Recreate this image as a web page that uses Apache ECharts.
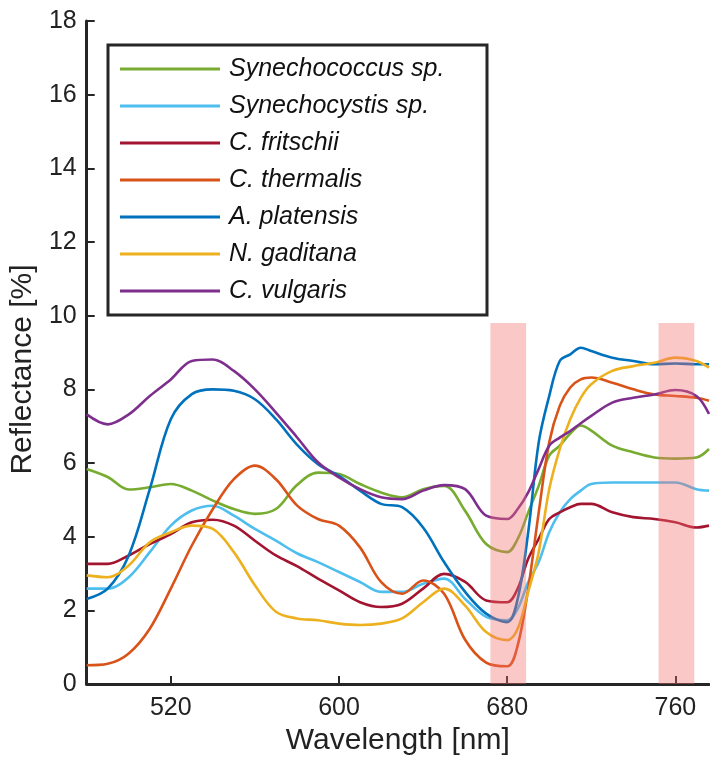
<!DOCTYPE html>
<html>
<head>
<meta charset="utf-8">
<script src="https://cdn.jsdelivr.net/npm/echarts@6/dist/echarts.min.js"></script>
<style>
  html, body { margin: 0; padding: 0; background: #fff; }
  #chart { width: 710px; height: 761px; }
</style>
</head>
<body>
<div id="chart"></div>
<script>
// wavelengths [nm]
const wavelengths = [480, 490, 500, 510, 520, 530, 540, 550, 560, 570, 580, 590, 600, 610, 620, 630, 640, 650, 660, 670,
  680, 685, 690, 695, 700, 705, 710, 715, 720, 730, 740, 750, 760, 770, 776];

// reflectance [%] per species
const synechococcus = [5.84, 5.62, 5.28, 5.34, 5.43, 5.25, 4.98, 4.75, 4.62, 4.75, 5.40, 5.74, 5.70, 5.43, 5.20, 5.07, 5.29, 5.38, 4.70, 3.80,
  3.58, 3.94, 4.66, 5.38, 6.20, 6.47, 6.80, 7.02, 6.88, 6.47, 6.29, 6.15, 6.12, 6.15, 6.38];
const synechocystis = [2.59, 2.59, 2.90, 3.58, 4.30, 4.71, 4.84, 4.57, 4.21, 3.89, 3.55, 3.31, 3.04, 2.77, 2.50, 2.50, 2.72, 2.86, 2.31, 1.82,
  1.73, 2.04, 2.77, 3.31, 4.12, 4.66, 5.02, 5.25, 5.43, 5.47, 5.47, 5.47, 5.47, 5.29, 5.25];
const fritschii = [3.26, 3.26, 3.49, 3.80, 4.07, 4.39, 4.46, 4.30, 3.89, 3.49, 3.20, 2.86, 2.54, 2.22, 2.09, 2.18, 2.59, 2.99, 2.77, 2.27,
  2.22, 2.59, 3.40, 3.94, 4.48, 4.66, 4.80, 4.89, 4.89, 4.66, 4.53, 4.48, 4.39, 4.25, 4.30];
const thermalis = [0.51, 0.55, 0.83, 1.50, 2.59, 3.76, 4.75, 5.56, 5.93, 5.56, 4.85, 4.48, 4.30, 3.71, 2.77, 2.45, 2.81, 2.45, 1.20, 0.58,
  0.48, 1.05, 2.59, 4.66, 6.56, 7.55, 8.05, 8.27, 8.32, 8.18, 8.00, 7.86, 7.82, 7.77, 7.69];
const platensis = [2.31, 2.59, 3.49, 5.29, 7.19, 7.87, 8.00, 7.96, 7.73, 7.19, 6.50, 5.97, 5.65, 5.25, 4.89, 4.80, 4.25, 3.31, 2.50, 1.91,
  1.68, 2.31, 4.12, 6.56, 7.82, 8.77, 8.95, 9.13, 9.04, 8.86, 8.77, 8.68, 8.70, 8.68, 8.68];
const gaditana = [2.95, 2.90, 3.22, 3.85, 4.12, 4.30, 4.21, 3.58, 2.68, 1.96, 1.78, 1.73, 1.64, 1.60, 1.64, 1.78, 2.22, 2.59, 2.13, 1.41,
  1.19, 1.50, 2.50, 3.58, 5.29, 6.38, 7.19, 7.77, 8.14, 8.50, 8.63, 8.72, 8.86, 8.77, 8.59];
const vulgaris = [7.32, 7.05, 7.32, 7.82, 8.27, 8.77, 8.81, 8.50, 8.00, 7.37, 6.70, 6.02, 5.61, 5.29, 5.07, 5.02, 5.25, 5.40, 5.29, 4.57,
  4.48, 4.75, 5.20, 5.84, 6.47, 6.69, 6.87, 7.08, 7.28, 7.64, 7.77, 7.86, 7.98, 7.82, 7.33];

const speciesNames = ['Synechococcus sp.', 'Synechocystis sp.', 'C. fritschii', 'C. thermalis', 'A. platensis', 'N. gaditana', 'C. vulgaris'];
const speciesValues = [synechococcus, synechocystis, fritschii, thermalis, platensis, gaditana, vulgaris];
const speciesColors = ['#77AC30', '#4DBEEE', '#A2142F', '#D95319', '#0072BD', '#EDB120', '#7E2F8E'];

// highlighted bands [nm]
const bandRanges = [[672, 689], [752, 769]];
const bandTop = 9.8;
const xTickValues = [520, 600, 680, 760];

const FONT = "'Liberation Sans', Arial, sans-serif";
const INK = '#262626';

const series = speciesNames.map((name, i) => ({
  name: name,
  type: 'line',
  color: speciesColors[i],
  data: wavelengths.map((w, j) => [w, speciesValues[i][j]]),
  showSymbol: false,
  smooth: 0.35,
  lineStyle: { width: 2.6 },
  clip: true
}));

// translucent bands drawn over the curves
series.push({
  type: 'line',
  data: [],
  silent: true,
  markArea: {
    silent: true,
    z: 10,
    itemStyle: { color: 'rgba(245,110,110,0.38)' },
    data: bandRanges.map(r => [{ xAxis: r[0], yAxis: 0 }, { xAxis: r[1], yAxis: bandTop }])
  }
});

const chart = echarts.init(document.getElementById('chart'), null, { renderer: 'canvas' });
chart.setOption({
  animation: false,
  backgroundColor: '#fff',
  grid: { left: 85, top: 21, right: 1, bottom: 75.5 },
  legend: {
    orient: 'vertical',
    left: 108,
    top: 45,
    padding: [10, 8, 10, 12],
    itemWidth: 100,
    itemHeight: 3,
    itemGap: 9,
    icon: 'rect',
    borderColor: INK,
    borderWidth: 3,
    backgroundColor: '#fff',
    textStyle: { fontFamily: FONT, fontSize: 25, fontStyle: 'italic', color: '#111', lineHeight: 28, width: 250, padding: [0, 0, 0, 4] },
    data: speciesNames
  },
  xAxis: {
    type: 'value',
    min: 480,
    max: 776,
    name: 'Wavelength [nm]',
    nameLocation: 'middle',
    nameGap: 42,
    nameTextStyle: { fontFamily: FONT, fontSize: 30, color: '#222' },
    axisLine: { onZero: false, lineStyle: { color: INK, width: 3 } },
    axisTick: { inside: true, length: 8, customValues: xTickValues, lineStyle: { color: INK, width: 2 } },
    axisLabel: { customValues: xTickValues, fontFamily: FONT, fontSize: 25, color: '#222', margin: 12 },
    splitLine: { show: false }
  },
  yAxis: {
    type: 'value',
    min: 0,
    max: 18,
    interval: 2,
    name: 'Reflectance [%]',
    nameLocation: 'middle',
    nameGap: 45,
    nameTextStyle: { fontFamily: FONT, fontSize: 30, color: '#222', padding: [0, 34, 0, 0] },
    axisLine: { show: true, lineStyle: { color: INK, width: 3 } },
    axisTick: { show: true, inside: true, length: 8, lineStyle: { color: INK, width: 2 } },
    axisLabel: { fontFamily: FONT, fontSize: 25, color: '#222', margin: 10 },
    splitLine: { show: false }
  },
  series: series
});
</script>
</body>
</html>
